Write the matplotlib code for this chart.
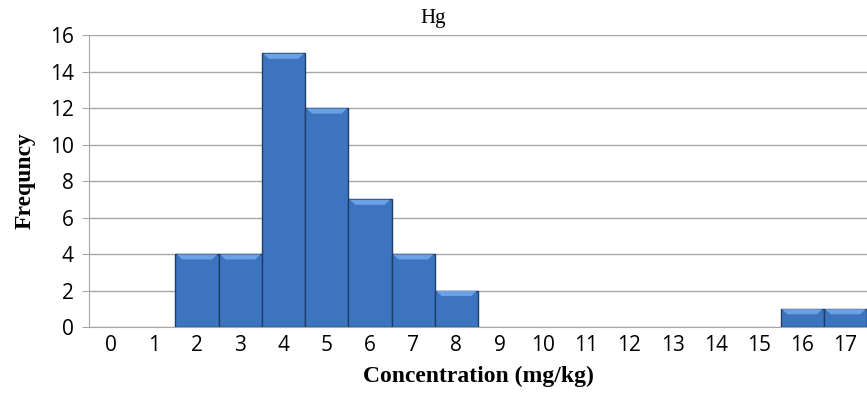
import matplotlib
matplotlib.use("Agg")
import matplotlib.pyplot as plt
from matplotlib.patches import Polygon
import numpy as np

categories = [str(i) for i in range(18)]
frequency = [0, 0, 4, 4, 15, 12, 7, 4, 2, 0, 0, 0, 0, 0, 0, 0, 1, 1]
yticks = [0, 2, 4, 6, 8, 10, 12, 14, 16]

fig = plt.figure(figsize=(8.67, 3.94), dpi=100)
ax = fig.add_axes([0.1027, 0.170, 0.8973, 0.741])

x = np.arange(len(categories))
vals = np.array(frequency, dtype=float)
mask = vals > 0
ax.bar(x[mask], vals[mask], width=1.0, color="#3c74c0", edgecolor="#1f3d69",
       linewidth=1.0, zorder=3)

# bevel highlight on the top of each bar (derived from the bar values)
bev_h = 0.3
bev_w = 0.13
for xi, v in zip(x[mask], vals[mask]):
    top = Polygon([(xi - 0.47, v - 0.02), (xi + 0.47, v - 0.02),
                   (xi + 0.47 - bev_w, v - bev_h), (xi - 0.47 + bev_w, v - bev_h)],
                  closed=True, facecolor="#6ba2e6", edgecolor="none", zorder=4)
    ax.add_patch(top)

ax.set_xlim(-0.5, 17.5)
ax.set_ylim(0, 16)
ax.set_yticks(yticks)
ax.set_xticks(x)
ax.set_xticklabels(categories)
ax.grid(axis="y", color="#a6a6a6", linewidth=1.0, zorder=0)
ax.set_axisbelow(True)
for s in ["top", "right"]:
    ax.spines[s].set_visible(False)
ax.spines["left"].set_color("#a6a6a6")
ax.spines["bottom"].set_color("#a6a6a6")
ax.tick_params(axis="y", length=5, color="#a6a6a6", labelsize=15, pad=6)
ax.tick_params(axis="x", length=0, labelsize=15, pad=6)
for lab in ax.get_xticklabels() + ax.get_yticklabels():
    lab.set_family("Open Sans")

fig.text(0.5, 0.952, "Hg", family="Liberation Serif", fontsize=15,
         ha="center", va="center")
ax.set_xlabel("Concentration (mg/kg)", family="Liberation Serif", fontsize=17,
              fontweight="bold", labelpad=7)
ax.set_ylabel("Frequncy", family="Liberation Serif", fontsize=17,
              fontweight="bold", labelpad=10)

fig.savefig("out.png", dpi=100)
